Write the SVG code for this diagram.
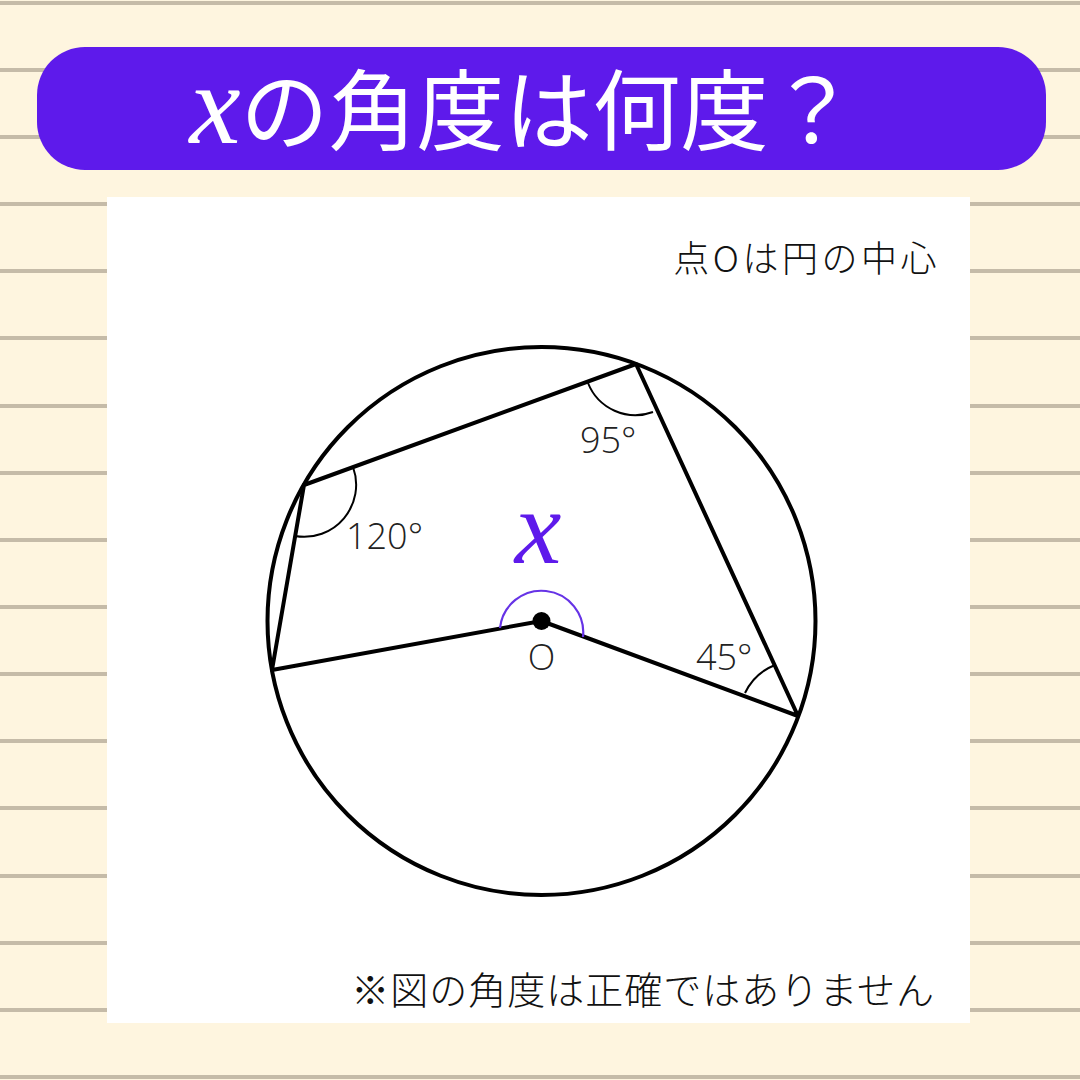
<svg xmlns="http://www.w3.org/2000/svg" width="1080" height="1080" viewBox="0 0 1080 1080">
<style>
.rule{stroke:#C5BBA8;stroke-width:4}
.geo{fill:none;stroke:#000;stroke-width:4;stroke-linecap:round;stroke-linejoin:round}
.ang{fill:none;stroke:#000;stroke-width:2}
.lbl{font-family:"Open Sans","Noto Sans",sans-serif;font-weight:300;font-size:36px;fill:#222}
.jp{font-family:"Noto Sans CJK JP",sans-serif;font-weight:300;fill:#111}
</style>
<rect width="1080" height="1080" fill="#FEF5DF"/>
<g id="rules">
<line class="rule" x1="0" y1="3" x2="1080" y2="3"/>
<line class="rule" x1="0" y1="70" x2="1080" y2="70"/>
<line class="rule" x1="0" y1="137" x2="1080" y2="137"/>
<line class="rule" x1="0" y1="204" x2="1080" y2="204"/>
<line class="rule" x1="0" y1="271" x2="1080" y2="271"/>
<line class="rule" x1="0" y1="338" x2="1080" y2="338"/>
<line class="rule" x1="0" y1="406" x2="1080" y2="406"/>
<line class="rule" x1="0" y1="473" x2="1080" y2="473"/>
<line class="rule" x1="0" y1="540" x2="1080" y2="540"/>
<line class="rule" x1="0" y1="607" x2="1080" y2="607"/>
<line class="rule" x1="0" y1="674" x2="1080" y2="674"/>
<line class="rule" x1="0" y1="741" x2="1080" y2="741"/>
<line class="rule" x1="0" y1="808" x2="1080" y2="808"/>
<line class="rule" x1="0" y1="876" x2="1080" y2="876"/>
<line class="rule" x1="0" y1="943" x2="1080" y2="943"/>
<line class="rule" x1="0" y1="1010" x2="1080" y2="1010"/>
<line class="rule" x1="0" y1="1077" x2="1080" y2="1077"/>
</g>
<g id="header">
<rect x="37" y="47" width="1009" height="123" rx="48" ry="48" fill="#5E1AEB"/>
<text x="523" y="143" text-anchor="middle" font-family="Noto Sans CJK JP,sans-serif" font-size="88" fill="#fff"><tspan font-family="Liberation Serif,serif" font-style="italic" font-size="115">x</tspan>の角度は何度？</text>
</g>
<rect id="panel" x="107" y="197" width="863" height="826" fill="#fff"/>
<text class="jp" x="940" y="272" text-anchor="end" font-size="36" letter-spacing="3.5">点Oは円の中心</text>
<g id="circle"><circle cx="541.5" cy="621" r="274" class="geo"/></g>
<g id="connectors">
<polyline class="geo" points="272,670 304,485 636,364 798,716 541.5,621 272,670"/>
</g>
<g id="angles">
<path class="ang" d="M353,467 A52,52 0 0 1 295,536"/>
<path class="ang" d="M588,383 A51,51 0 0 0 653,412"/>
<path class="ang" d="M745,693 A56,56 0 0 1 775,665"/>
<path d="M500,628 A41.5,41.5 0 1 1 583,637" fill="none" stroke="#6633E6" stroke-width="2.2"/>
</g>
<g id="center"><circle cx="541.5" cy="621" r="9" fill="#000"/></g>
<g id="labels">
<text class="lbl" x="346" y="549">120°</text>
<text class="lbl" x="580" y="453">95°</text>
<text class="lbl" x="696" y="670">45°</text>
<text class="lbl" x="541.5" y="670" text-anchor="middle">O</text>
<text x="538" y="563" text-anchor="middle" font-family="Liberation Serif,serif" font-style="italic" font-size="105" fill="#5E1AEB">x</text>
</g>
<text class="jp" x="935" y="1004" text-anchor="end" font-size="38" letter-spacing="1">※図の角度は正確ではありません</text>
</svg>
